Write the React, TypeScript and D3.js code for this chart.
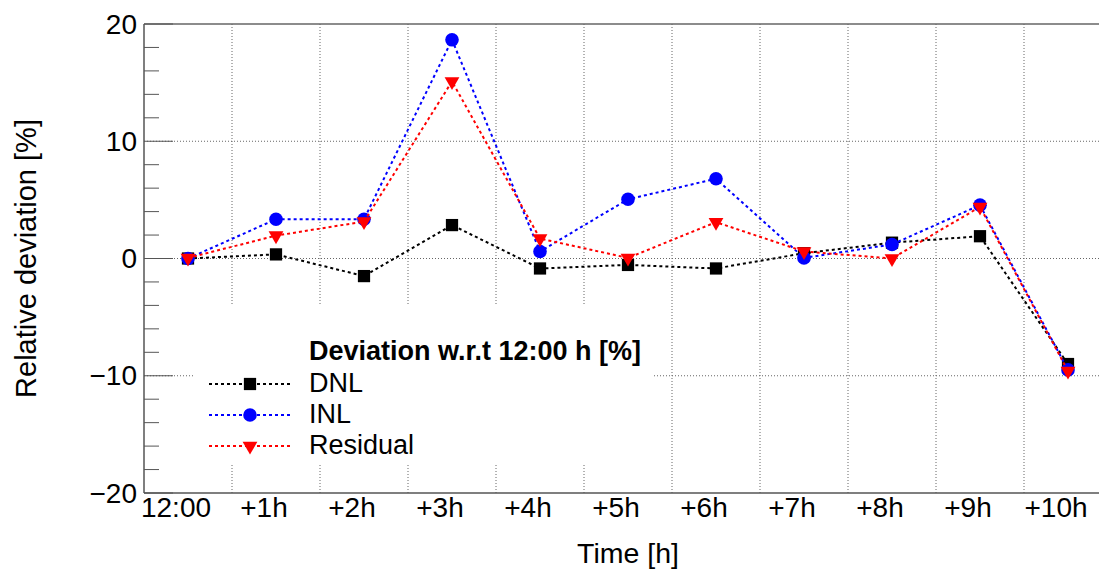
import React, { useEffect, useRef } from "react";
import * as d3 from "d3";

// bin labels on the time axis
const categories = ["12:00", "+1h", "+2h", "+3h", "+4h", "+5h", "+6h", "+7h", "+8h", "+9h", "+10h"];

// relative deviation [%] per series
const dnl = [0, 0.35, -1.5, 2.85, -0.85, -0.55, -0.85, 0.45, 1.35, 1.9, -9.0];
const inl = [0, 3.35, 3.35, 18.65, 0.6, 5.05, 6.8, 0.05, 1.2, 4.55, -9.5];
const residual = [0.05, 1.95, 3.15, 15.1, 1.7, 0.05, 3.1, 0.6, 0.0, 4.4, -9.6];

const seriesNames = ["DNL", "INL", "Residual"];
const legendTitle = "Deviation w.r.t 12:00 h [%]";

const FONT = "'Liberation Sans', Arial, Helvetica, sans-serif";

const App = () => {
  const svgRef = useRef<SVGSVGElement | null>(null);

  useEffect(() => {
    const svg = d3.select(svgRef.current);
    svg.selectAll("*").remove();

    const width = 1099;
    const height = 570;
    const left = 144;
    const right = 1112; // frame continues past the picture edge
    const top = 24;
    const bottom = 493;

    const x = d3.scaleBand().domain(categories).range([left, right]).padding(0);
    const y = d3.scaleLinear().domain([-20, 20]).range([bottom, top]);
    const cx = (c: string) => (x(c) as number) + x.bandwidth() / 2;

    svg.append("rect").attr("width", width).attr("height", height).attr("fill", "white");

    // grid
    const grid = svg.append("g").attr("stroke", "#666").attr("stroke-width", 1).attr("stroke-dasharray", "1,2");
    categories.slice(1).forEach((c) => {
      grid.append("line").attr("x1", x(c)!).attr("x2", x(c)!).attr("y1", top).attr("y2", bottom);
    });
    y.ticks(4).forEach((t) => {
      if (t === 20 || t === -20) return;
      grid.append("line").attr("x1", left).attr("x2", right).attr("y1", y(t)).attr("y2", y(t));
    });

    // frame
    svg.append("line").attr("x1", left).attr("x2", right).attr("y1", top).attr("y2", top)
      .attr("stroke", "#666").attr("stroke-width", 1.5);
    svg.append("line").attr("x1", left).attr("x2", right).attr("y1", bottom).attr("y2", bottom)
      .attr("stroke", "#555").attr("stroke-width", 1.5);
    svg.append("line").attr("x1", left).attr("x2", left).attr("y1", top).attr("y2", bottom)
      .attr("stroke", "#555").attr("stroke-width", 1.5);

    // y ticks, pointing into the frame
    const majors = y.ticks(4);
    y.ticks(20).forEach((t) => {
      const isMajor = majors.includes(t);
      svg.append("line")
        .attr("x1", left).attr("x2", left + (isMajor ? 29 : 15))
        .attr("y1", y(t)).attr("y2", y(t))
        .attr("stroke", "#555").attr("stroke-width", 1);
    });
    const fmt = y.tickFormat(4);
    majors.forEach((t) => {
      svg.append("text")
        .attr("x", 137).attr("y", y(t))
        .attr("text-anchor", "end").attr("dominant-baseline", "central")
        .attr("font-family", FONT).attr("font-size", 28)
        .text(fmt(t));
    });

    // x labels
    categories.forEach((c) => {
      svg.append("text")
        .attr("x", cx(c) - 12).attr("y", 517)
        .attr("text-anchor", "middle")
        .attr("font-family", FONT).attr("font-size", 28)
        .text(c);
    });

    // axis titles
    svg.append("text")
      .attr("x", (left + right) / 2).attr("y", 563)
      .attr("text-anchor", "middle")
      .attr("font-family", FONT).attr("font-size", 28.5)
      .text("Time [h]");
    svg.append("text")
      .attr("transform", `translate(36, ${y(0)}) rotate(-90)`)
      .attr("text-anchor", "middle")
      .attr("font-family", FONT).attr("font-size", 29)
      .text("Relative deviation [%]");

    const series = [
      { name: seriesNames[0], values: dnl, color: "#000000", symbol: d3.symbolSquare, size: 150, rotate: 0 },
      { name: seriesNames[1], values: inl, color: "#0000ff", symbol: d3.symbolCircle, size: 145, rotate: 0 },
      { name: seriesNames[2], values: residual, color: "#ff0000", symbol: d3.symbolTriangle, size: 95, rotate: 180 },
    ];

    // legend (white box, no border)
    svg.append("rect").attr("x", 193).attr("y", 305).attr("width", 460).attr("height", 158).attr("fill", "white");
    svg.append("text")
      .attr("x", 309).attr("y", 360)
      .attr("font-family", FONT).attr("font-size", 27).attr("font-weight", "bold")
      .text(legendTitle);
    series.forEach((s, i) => {
      const ly = 384 + i * 31;
      svg.append("line")
        .attr("x1", 209).attr("x2", 290).attr("y1", ly).attr("y2", ly)
        .attr("stroke", s.color).attr("stroke-width", 2).attr("stroke-dasharray", "3,3");
      svg.append("path")
        .attr("d", d3.symbol().type(s.symbol).size(s.size)()!)
        .attr("transform", `translate(250, ${ly}) rotate(${s.rotate})`)
        .attr("fill", s.color);
      svg.append("text")
        .attr("x", 309).attr("y", ly + 8)
        .attr("font-family", FONT).attr("font-size", 27)
        .text(s.name);
    });

    // data
    const line = d3.line<number>()
      .x((_, i) => cx(categories[i]))
      .y((d) => y(d));

    series.forEach((s) => {
      svg.append("path")
        .attr("d", line(s.values)!)
        .attr("fill", "none")
        .attr("stroke", s.color)
        .attr("stroke-width", 2)
        .attr("stroke-dasharray", "3,3");
      s.values.forEach((v, i) => {
        svg.append("path")
          .attr("d", d3.symbol().type(s.symbol).size(s.size)()!)
          .attr("transform", `translate(${cx(categories[i])}, ${y(v)}) rotate(${s.rotate})`)
          .attr("fill", s.color);
      });
    });
  }, []);

  return (
    <svg
      ref={svgRef}
      width={1099}
      height={570}
      style={{ position: "absolute", left: 0, top: 0, display: "block" }}
    ></svg>
  );
};

export default App;
